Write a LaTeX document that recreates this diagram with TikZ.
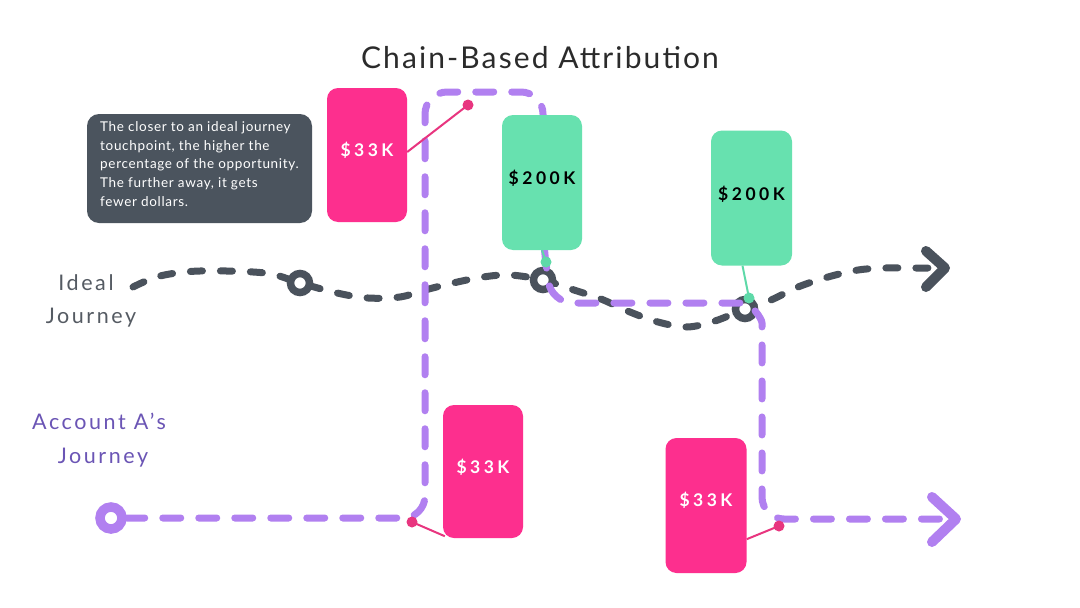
\documentclass[tikz,border=0pt]{standalone}
\usepackage{fontspec}
\setmainfont{Lato}
\newfontfamily\numfont[LetterSpace=20]{Lato}
\newfontfamily\bodyfont[LetterSpace=5]{Lato}
\newfontfamily\handfont[LetterSpace=12]{Lato}
\newfontfamily\titlefont[LetterSpace=7]{Lato}
\definecolor{darkline}{HTML}{4A525C}
\definecolor{boxgray}{HTML}{4B545E}
\definecolor{purpline}{HTML}{B180F0}
\definecolor{purplabel}{HTML}{6B55B5}
\definecolor{pinkbox}{HTML}{FD2F8E}
\definecolor{pinkline}{HTML}{E8357F}
\definecolor{greenbox}{HTML}{67E1AF}
\definecolor{greenline}{HTML}{5ED9A8}
\definecolor{titlecol}{HTML}{2B2B2B}
\definecolor{idealcol}{HTML}{555B63}
\tikzset{
  darkdash/.style={draw=darkline, line width=7pt, line cap=round, dash pattern=on 12pt off 18pt},
  purpdash/.style={draw=purpline, line width=7pt, line cap=round, dash pattern=on 18pt off 18pt},
  ring/.style={circle, draw=darkline, line width=7.5pt, fill=white, minimum size=19pt, inner sep=0pt},
  pring/.style={circle, draw=purpline, line width=9.5pt, fill=white, minimum size=22pt, inner sep=0pt},
  pinkcard/.style={rectangle, rounded corners=11pt, fill=pinkbox, minimum width=80pt, minimum height=134pt, inner sep=0pt},
  greencard/.style={rectangle, rounded corners=11pt, fill=greenbox, minimum width=80pt, minimum height=135pt, inner sep=0pt},
  pinktxt/.style={text=white, font=\numfont\bfseries\fontsize{17.5}{20}\selectfont, inner sep=0pt},
  greentxt/.style={text=black, font=\numfont\bfseries\fontsize{17.5}{20}\selectfont, inner sep=0pt},
  dotpink/.style={circle, fill=pinkline, minimum size=11pt, inner sep=0pt},
  dotgreen/.style={circle, fill=greenline, minimum size=11pt, inner sep=0pt},
  pinkconn/.style={draw=pinkline, line width=2pt},
  greenconn/.style={draw=greenline, line width=2pt},
  chevron/.style={line width=10pt, line cap=round, line join=round},
  idealtxt/.style={text=idealcol, font=\handfont\fontsize{21.5}{24}\selectfont, inner sep=0pt},
  accttxt/.style={text=purplabel, font=\handfont\fontsize{21.5}{24}\selectfont, inner sep=0pt}
}
\begin{document}
\begin{tikzpicture}[x=1pt,y=-1pt]
\useasboundingbox (0,0) rectangle (1080,608);
\fill[white] (0,0) rectangle (1080,608);

% title
\node[text=titlecol, font=\titlefont\fontsize{30}{33}\selectfont, inner sep=0pt] (title) at (540,58) {Chain-Based Attribution};

% ideal journey line
\coordinate (ia) at (133,287);
\coordinate (c1p) at (300,283);
\coordinate (c2p) at (543,280);
\coordinate (c3p) at (745,309);
\coordinate (iend) at (938,268);
\draw[darkdash] plot[smooth, tension=0.55] coordinates {(ia) (160,276) (200,271) (265,273) (c1p) (337,293) (368,298) (400,297) (425,290) (453,283) (483,277) (510,275) (c2p) (574,290) (601,299) (630,312) (658,322) (687,327) (715,321) (c3p) (771,300) (798,287) (828,277) (858,270) (885,268) (912,268) (iend)};
\coordinate (ic1) at (926,251);
\coordinate (ic2) at (945,268);
\coordinate (ic3) at (926,287);
\draw[chevron, draw=darkline] (ic1) -- (ic2) -- (ic3);

\node[ring] (c1) at (c1p) {};
\node[ring] (c2) at (c2p) {};
\node[ring] (c3) at (c3p) {};

% account journey line
\node[pring] (ps) at (111,518) {};
\coordinate (pend) at (940,519);
\draw[purpdash, rounded corners=22pt] (ps.east) -- (425,518) -- (425,92) -- (543,92) -- (543,240) -- (551,303) -- (722,303) .. controls (750,303) and (762,318) .. (762,345) -- (762,519) -- (pend);
\coordinate (pc1) at (932,497);
\coordinate (pc2) at (956,519);
\coordinate (pc3) at (932,542);
\draw[chevron, draw=purpline] (pc1) -- (pc2) -- (pc3);

% info box
\node[rectangle, rounded corners=12pt, fill=boxgray, minimum width=225pt, minimum height=109pt, inner sep=0pt] (info) at (199.5,168.5) {};
\node[anchor=north west, inner sep=0pt, text=white, align=left, font=\bodyfont\fontsize{13.5}{18.6}\selectfont] (infotxt) at (100,121.5) {The closer to an ideal journey\\touchpoint, the higher the\\percentage of the opportunity.\\The further away, it gets\\fewer dollars.};

% cards
\node[pinkcard] (p1) at (367,155) {};
\node[pinktxt] at ([yshift=5pt]p1.center) {\$33K};
\node[greencard] (g1) at (542,182.5) {};
\node[greentxt] at ([yshift=4pt]g1.center) {\$200K};
\node[greencard, minimum width=81pt] (g2) at (751.5,198) {};
\node[greentxt] at ([yshift=4pt]g2.center) {\$200K};
\node[pinkcard, minimum height=133pt] (p2) at (483,471.5) {};
\node[pinktxt] at ([yshift=4pt]p2.center) {\$33K};
\node[pinkcard, minimum width=81pt, minimum height=135pt] (p3) at (706,505.5) {};
\node[pinktxt] at ([yshift=5pt]p3.center) {\$33K};

% connectors
\node[dotpink] (d1) at (468,105) {};
\draw[pinkconn] ([yshift=3pt]p1.east) -- (d1.center);
\node[dotpink] (d2) at (412,522) {};
\draw[pinkconn] ([xshift=2pt,yshift=2pt]p2.south west) -- (d2.center);
\node[dotpink] (d3) at (779,526) {};
\draw[pinkconn] ([yshift=34pt]p3.south east) -- (d3.center);
\draw[greenconn] (g1.south) -- (546,262) node[dotgreen] (e1) {};
\draw[greenconn] ([xshift=-9pt]g2.south) -- (749,298) node[dotgreen] (e2) {};

% labels
\node[idealtxt] (lab1) at (86,283) {Ideal};
\node[idealtxt] (lab2) at (91,318) {Journey};
\node[accttxt] (lab3) at (99,421) {Account A’s};
\node[accttxt] (lab4) at (103,458) {Journey};
\end{tikzpicture}
\end{document}
